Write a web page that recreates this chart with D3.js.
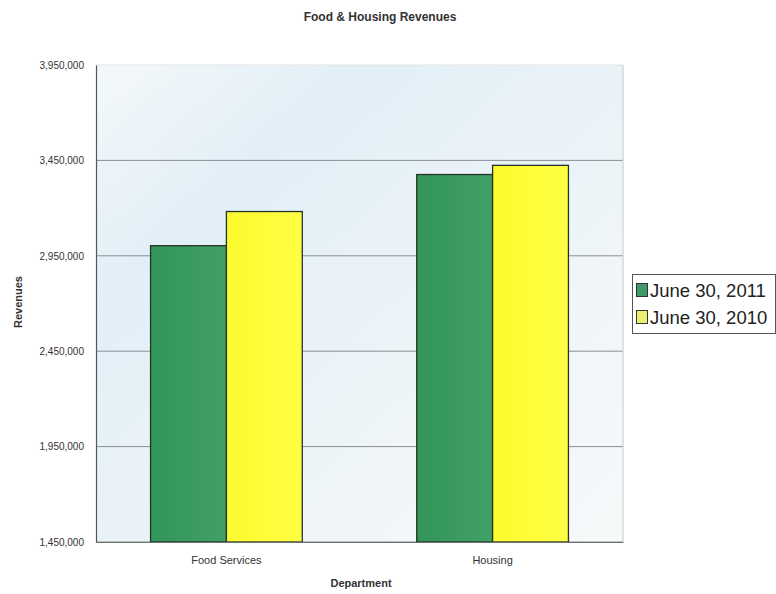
<!DOCTYPE html>
<html>
<head>
<meta charset="utf-8">
<script src="https://cdn.jsdelivr.net/npm/d3@7"></script>
<style>
  html, body { margin: 0; padding: 0; background: #fff; }
  svg { display: block; font-family: "Liberation Sans", Arial, sans-serif; }
</style>
</head>
<body>
<svg id="chart" width="776" height="594"></svg>
<script>
const categories = ["Food Services", "Housing"];
const seriesNames = ["June 30, 2011", "June 30, 2010"];
const values2011 = [3003000, 3376000];
const values2010 = [3182000, 3424000];
const yTicks = [1450000, 1950000, 2450000, 2950000, 3450000, 3950000];

const svg = d3.select("#chart");
const m = { left: 96, right: 623, top: 65, bottom: 542 };

const defs = svg.append("defs");
const bg = defs.append("linearGradient").attr("id", "bg").attr("x1", 0).attr("y1", 0).attr("x2", 1).attr("y2", 1);
bg.append("stop").attr("offset", "0%").attr("stop-color", "#f4f8fa");
bg.append("stop").attr("offset", "25%").attr("stop-color", "#e2eff7");
bg.append("stop").attr("offset", "60%").attr("stop-color", "#edf4f8");
bg.append("stop").attr("offset", "100%").attr("stop-color", "#f7f9fa");
const gG = defs.append("linearGradient").attr("id", "gGreen").attr("x1", 0).attr("y1", 0).attr("x2", 1).attr("y2", 0);
gG.append("stop").attr("offset", "0%").attr("stop-color", "#32955a");
gG.append("stop").attr("offset", "100%").attr("stop-color", "#42a066");
const gY = defs.append("linearGradient").attr("id", "gYellow").attr("x1", 0).attr("y1", 0).attr("x2", 1).attr("y2", 0);
gY.append("stop").attr("offset", "0%").attr("stop-color", "#fbfb2e");
gY.append("stop").attr("offset", "100%").attr("stop-color", "#ffff44");
const fills = ["url(#gGreen)", "url(#gYellow)"];

const x0 = d3.scaleBand().domain(categories).range([m.left, m.right]).paddingInner(0.43).paddingOuter(0.205);
const x1 = d3.scaleBand().domain(seriesNames).range([0, x0.bandwidth()]).padding(0);
const y = d3.scaleLinear().domain([1450000, 3950000]).range([m.bottom, m.top]);

svg.append("rect").attr("x", m.left).attr("y", m.top)
  .attr("width", m.right - m.left).attr("height", m.bottom - m.top)
  .attr("fill", "url(#bg)");

svg.append("g").selectAll("line").data(yTicks).join("line")
  .attr("x1", m.left).attr("x2", m.right)
  .attr("y1", d => y(d)).attr("y2", d => y(d))
  .attr("stroke", d => d === 3950000 ? "#e4e4e4" : "#8a8f93").attr("stroke-width", 1);
svg.append("line").attr("x1", m.right).attr("x2", m.right).attr("y1", m.top).attr("y2", m.bottom)
  .attr("stroke", "#c8c8c8");

const rows = categories.map((c, i) => ({ cat: c, vals: [values2011[i], values2010[i]] }));
const groups = svg.append("g").selectAll("g").data(rows).join("g")
  .attr("transform", d => `translate(${x0(d.cat)},0)`);
groups.selectAll("rect").data(d => d.vals.map((v, j) => ({ v, j }))).join("rect")
  .attr("x", d => x1(seriesNames[d.j]))
  .attr("y", d => y(d.v))
  .attr("width", x1.bandwidth())
  .attr("height", d => y(1450000) - y(d.v))
  .attr("fill", d => fills[d.j])
  .attr("stroke", "#26332b").attr("stroke-width", 1.3);

const yAxis = d3.axisLeft(y).tickValues(yTicks).tickFormat(d3.format(",")).tickSize(0).tickPadding(12);
const ya = svg.append("g").attr("transform", `translate(${m.left},0)`).call(yAxis);
ya.select(".domain").attr("stroke", "#4a5a5a").attr("stroke-width", 1.2);
ya.selectAll("text").attr("font-size", 10).attr("fill", "#333");

const xAxis = d3.axisBottom(x0).tickSize(0).tickPadding(14);
const xa = svg.append("g").attr("transform", `translate(0,${m.bottom})`).call(xAxis);
xa.select(".domain").attr("stroke", "#6a7070").attr("stroke-width", 1.2);
xa.selectAll("text").attr("font-size", 11).attr("fill", "#333");

svg.append("text").attr("x", 380).attr("y", 21).attr("text-anchor", "middle")
  .attr("font-size", 12).attr("font-weight", "bold").attr("fill", "#333")
  .text("Food & Housing Revenues");
svg.append("text").attr("transform", "translate(22,302) rotate(-90)").attr("text-anchor", "middle")
  .attr("font-size", 11).attr("font-weight", "bold").attr("fill", "#333")
  .text("Revenues");
svg.append("text").attr("x", 361).attr("y", 587).attr("text-anchor", "middle")
  .attr("font-size", 11).attr("font-weight", "bold").attr("fill", "#333")
  .text("Department");

const lg = svg.append("g");
lg.append("rect").attr("x", 632.5).attr("y", 274.5).attr("width", 143).attr("height", 59)
  .attr("fill", "#fff").attr("stroke", "#555");
const legendSw = ["#3f9a6a", "#eeee70"];
seriesNames.forEach((s, i) => {
  const cy = 290 + i * 27;
  lg.append("rect").attr("x", 636.5).attr("y", cy - 6.5).attr("width", 11).attr("height", 13)
    .attr("fill", legendSw[i]).attr("stroke", "#333");
  lg.append("text").attr("x", 650).attr("y", cy + 7).attr("font-size", 18.5).attr("fill", "#222")
    .text(s);
});
</script>
</body>
</html>
